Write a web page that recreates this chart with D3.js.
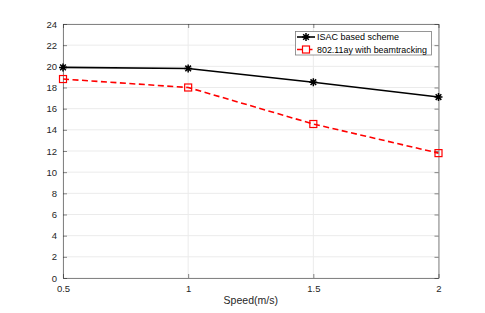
<!DOCTYPE html>
<html><head><meta charset="utf-8">
<script src="https://cdn.jsdelivr.net/npm/d3@7"></script>
<style>body{margin:0;background:#fff}svg{display:block;font-family:"Liberation Sans",Arial,sans-serif}</style>
</head><body><svg id="c" width="485" height="313"></svg>
<script>
const speeds = [0.5, 1, 1.5, 2];
const isac = [19.9, 19.8, 18.5, 17.1];
const ay = [18.8, 18.0, 14.55, 11.8];
const xTicks = [0.5, 1, 1.5, 2];
const yTicks = [0,2,4,6,8,10,12,14,16,18,20,22,24];
const seriesNames = ["ISAC based scheme", "802.11ay with beamtracking"];
const xLabel = "Speed(m/s)";

const svg = d3.select("#c");
const L=63, R=438.5, T=24, B=278;
const x = d3.scaleLinear().domain([0.5,2]).range([L,R]);
const y = d3.scaleLinear().domain([0,24]).range([B,T]);

// grid
svg.append("g").selectAll("line").data(yTicks).join("line")
  .attr("x1",L).attr("x2",R).attr("y1",d=>y(d)).attr("y2",d=>y(d))
  .attr("stroke","#ebebeb").attr("stroke-width",1);
svg.append("g").selectAll("line").data(xTicks).join("line")
  .attr("y1",T).attr("y2",B).attr("x1",d=>x(d)).attr("x2",d=>x(d))
  .attr("stroke","#ebebeb").attr("stroke-width",1);

// axes
const ax = svg.append("g").attr("transform",`translate(0,${B})`)
  .call(d3.axisBottom(x).tickValues(xTicks).tickFormat(d3.format("")).tickSizeInner(-4).tickSizeOuter(0).tickPadding(7));
const ay_ = svg.append("g").attr("transform",`translate(${L},0)`)
  .call(d3.axisLeft(y).tickValues(yTicks).tickSizeInner(-4).tickSizeOuter(0).tickPadding(6));
const axT = svg.append("g").attr("transform",`translate(0,${T})`)
  .call(d3.axisTop(x).tickValues(xTicks).tickFormat("").tickSizeInner(-4).tickSizeOuter(0));
const axR = svg.append("g").attr("transform",`translate(${R},0)`)
  .call(d3.axisRight(y).tickValues(yTicks).tickFormat("").tickSizeInner(-4).tickSizeOuter(0));
[ax,ay_,axT,axR].forEach(g=>{
  g.selectAll("path").attr("stroke","#262626").attr("stroke-opacity",0.55);
  g.selectAll("line").attr("stroke","#262626").attr("stroke-opacity",0.55);
  g.selectAll("text").attr("fill","#262626").attr("font-size",9.5).attr("font-family","Liberation Sans, Arial, sans-serif");
});
svg.append("text").attr("x",(L+R)/2).attr("y",303.5).attr("text-anchor","middle")
  .attr("font-size",10.5).attr("fill","#262626").text(xLabel);

const line = d3.line().x((d,i)=>x(speeds[i])).y(d=>y(d));
// series 2
svg.append("path").datum(ay).attr("d",line).attr("fill","none")
  .attr("stroke","#ff0000").attr("stroke-width",1.6).attr("stroke-dasharray","6,3.5");
svg.append("g").selectAll("rect").data(ay).join("rect")
  .attr("x",(d,i)=>x(speeds[i])-3.5).attr("y",d=>y(d)-3.5).attr("width",7).attr("height",7)
  .attr("fill","none").attr("stroke","#ff0000").attr("stroke-width",1.2);
// series 1
svg.append("path").datum(isac).attr("d",line).attr("fill","none")
  .attr("stroke","#000").attr("stroke-width",1.6);
const star = (cx,cy,r)=>{
  let s="";
  for(let k=0;k<4;k++){const a=k*Math.PI/4;s+=`M${cx-r*Math.cos(a)},${cy-r*Math.sin(a)}L${cx+r*Math.cos(a)},${cy+r*Math.sin(a)}`;}
  return s;
};
svg.append("g").selectAll("path").data(isac).join("path")
  .attr("d",(d,i)=>star(x(speeds[i]),y(d),4)).attr("stroke","#000").attr("stroke-width",1.5);

// legend
const lg = svg.append("g");
lg.append("rect").attr("x",295.5).attr("y",31.5).attr("width",136).attr("height",23.5)
  .attr("fill","#fff").attr("stroke","#262626").attr("stroke-opacity",0.6).attr("stroke-width",0.8);
const rows=[37,49.5];
lg.append("line").attr("x1",297).attr("x2",315).attr("y1",rows[0]).attr("y2",rows[0]).attr("stroke","#000").attr("stroke-width",1.6);
lg.append("path").attr("d",star(306,rows[0],4)).attr("stroke","#000").attr("stroke-width",1.5);
lg.append("line").attr("x1",297).attr("x2",315).attr("y1",rows[1]).attr("y2",rows[1]).attr("stroke","#ff0000").attr("stroke-width",1.6).attr("stroke-dasharray","6,3.5");
lg.append("rect").attr("x",302.5).attr("y",rows[1]-3.5).attr("width",7).attr("height",7).attr("fill","#fff").attr("stroke","#ff0000").attr("stroke-width",1.2);
lg.selectAll("text.l").data(seriesNames).join("text").attr("class","l")
  .attr("x",317).attr("y",(d,i)=>rows[i]+3.3).attr("font-size",9)
  .attr("textLength",(d,i)=>i===1?110:null).attr("lengthAdjust","spacingAndGlyphs")
  .attr("fill","#000").text(d=>d);
</script></body></html>
